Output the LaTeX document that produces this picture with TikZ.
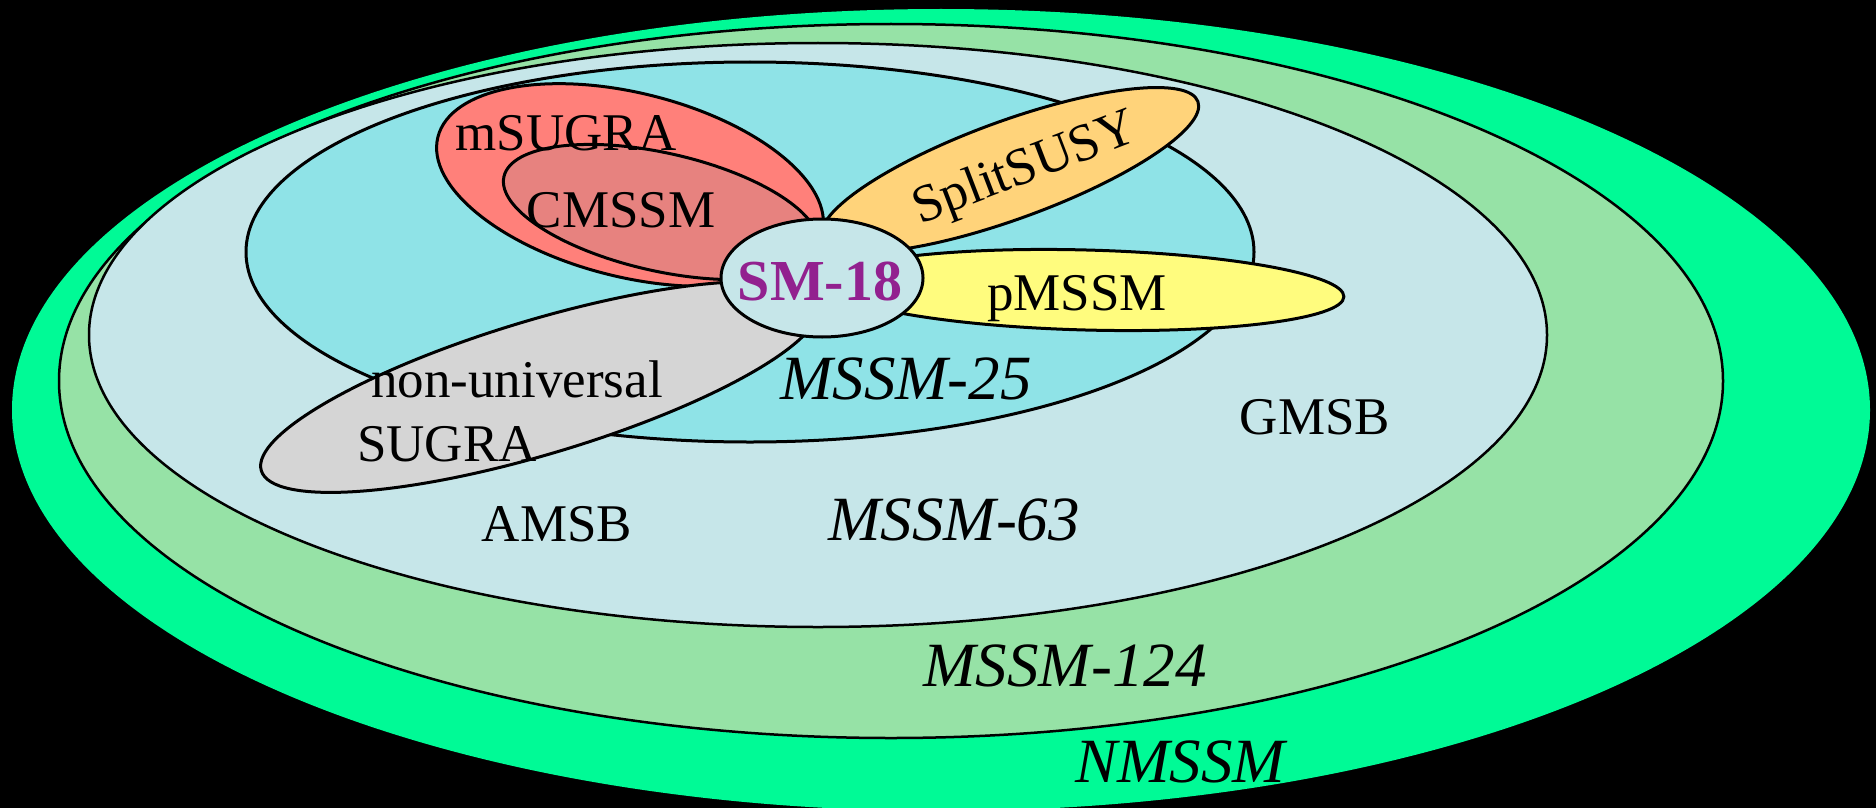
\documentclass[tikz,border=0pt]{standalone}
\usepackage{fontspec}
\setmainfont{Liberation Serif}
\definecolor{nmssm}{RGB}{0,250,150}
\definecolor{mssmA}{RGB}{150,226,166}
\definecolor{mssmB}{RGB}{198,230,233}
\definecolor{mssmC}{RGB}{143,227,231}
\definecolor{msugra}{RGB}{255,128,122}
\definecolor{cmssm}{RGB}{231,130,127}
\definecolor{splitc}{RGB}{255,211,122}
\definecolor{pmssm}{RGB}{255,252,126}
\definecolor{nonuni}{RGB}{213,213,213}
\definecolor{smpurple}{RGB}{146,33,143}
\begin{document}
\begin{tikzpicture}[x=1pt,y=-1pt,
  region/.style={draw=black, line width=3pt},
  outer/.style={draw=black, line width=2.5pt},
  lbl/.style={anchor=base, inner sep=0pt, font=\fontsize{53}{53}\selectfont},
  ilbl/.style={anchor=base, inner sep=0pt, font=\fontsize{63}{63}\selectfont\itshape}]
\useasboundingbox (0,0) rectangle (1876,808);
\fill[black] (0,0) rectangle (1876,808);
\clip (0,0) rectangle (1876,808);
% nested model spaces
\fill[nmssm] (941,410) ellipse [x radius=929pt, y radius=401pt];
\filldraw[mssmA, outer] (891,381) ellipse [x radius=832pt, y radius=357pt];
\filldraw[mssmB, outer] (818,335) ellipse [x radius=729pt, y radius=292pt];
\filldraw[mssmC, region] (750,252) ellipse [x radius=504pt, y radius=190pt];
% constrained models
\filldraw[msugra, region, rotate around={-14:(630,185)}] (630,185) ellipse [x radius=198pt, y radius=92pt];
\filldraw[cmssm, region, rotate around={-12.7:(661,212)}] (661,212) ellipse [x radius=161pt, y radius=59pt];
\filldraw[nonuni, region, rotate around={16.7:(540,387)}] (540,387) ellipse [x radius=291pt, y radius=67pt];
\filldraw[splitc, region, rotate around={20:(1010,170)}] (1010,170) ellipse [x radius=200pt, y radius=49pt];
\filldraw[pmssm, region, rotate around={-1.5:(1086,290)}] (1086,290) ellipse [x radius=258pt, y radius=40pt];
\filldraw[mssmB, region] (822,278) ellipse [x radius=101pt, y radius=59pt];
% labels
\node[lbl] (tmsugra) at (566,150) {mSUGRA};
\node[lbl] (tcmssm) at (621,227) {CMSSM};
\node[anchor=base, inner sep=0pt, font=\fontsize{58}{58}\selectfont\bfseries, text=smpurple] (tsm) at (820,300) {SM-18};
\node[lbl, rotate=21] (tsplit) at (1030,182) {SplitSUSY};
\node[lbl] (tpmssm) at (1077,310) {pMSSM};
\node[lbl] (tnonuni) at (517,397) {non-universal};
\node[lbl] (tsugra) at (447,461) {SUGRA};
\node[ilbl] (t25) at (906,399) {MSSM-25};
\node[lbl] (tgmsb) at (1315,434) {GMSB};
\node[lbl] (tamsb) at (557,541) {AMSB};
\node[ilbl] (t63) at (954,540) {MSSM-63};
\node[ilbl] (t124) at (1065,686) {MSSM-124};
\node[ilbl] (tnmssm) at (1180,782) {NMSSM};
\end{tikzpicture}
\end{document}
